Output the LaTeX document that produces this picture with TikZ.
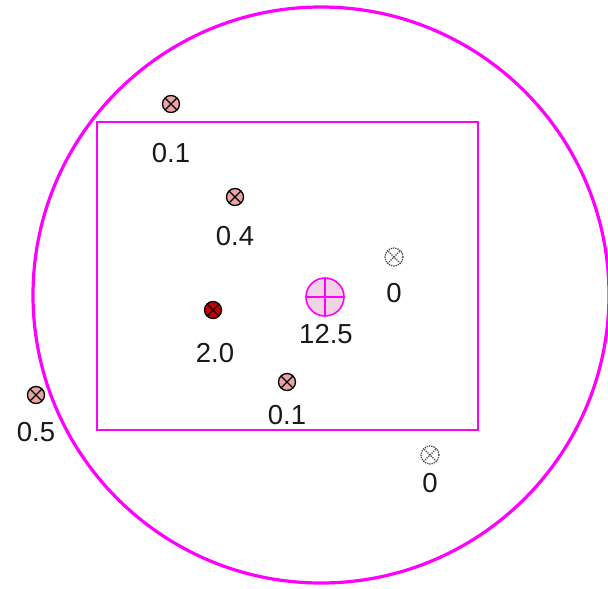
\documentclass[tikz,border=0pt]{standalone}
\usepackage{fontspec}
\setmainfont{Liberation Sans}
\definecolor{mag}{HTML}{FF00FF}
\definecolor{pinkfill}{HTML}{E8A4A4}
\definecolor{redfill}{HTML}{CC0000}
\definecolor{bigfill}{HTML}{F0D4E4}
\tikzset{
  mk/.style={circle, draw=black, line width=1.3pt, minimum size=17pt, inner sep=0pt, fill=pinkfill,
    path picture={\draw[line width=1.3pt] (path picture bounding box.north west) -- (path picture bounding box.south east)
      (path picture bounding box.north east) -- (path picture bounding box.south west);}},
  mkred/.style={mk, fill=redfill},
  mkzero/.style={circle, draw=black!70, densely dotted, line width=1.3pt, minimum size=18pt, inner sep=0pt,
    path picture={\draw[black!70, densely dotted, line width=1.3pt] (path picture bounding box.north west) -- (path picture bounding box.south east)
      (path picture bounding box.north east) -- (path picture bounding box.south west);}},
  mkbig/.style={circle, draw=mag, line width=1.6pt, minimum size=38pt, inner sep=0pt, fill=bigfill,
    path picture={\draw[mag, line width=1.6pt] (path picture bounding box.north) -- (path picture bounding box.south)
      (path picture bounding box.east) -- (path picture bounding box.west);}},
  lab/.style={font=\fontsize{27.5}{32}\selectfont, text=black!90, inner sep=0pt}
}
\begin{document}
\begin{tikzpicture}[x=1pt,y=-1pt]
\useasboundingbox (0,0) rectangle (608,589);
\begin{scope}
\clip (0,0) rectangle (608,589);
\node[circle, draw=mag, line width=3.2pt, minimum size=576pt, inner sep=0pt] (ring) at (321,295) {};
\end{scope}
\node[draw=mag, line width=2.2pt, minimum width=381pt, minimum height=308pt, inner sep=0pt] (box) at (287.5,276) {};
\node[mk] (m1) at (171,104) {};
\node[lab] (l1) at (171,153) {0.1};
\node[mk] (m2) at (235,197) {};
\node[lab] (l2) at (235,236) {0.4};
\node[mkzero] (m3) at (394,257) {};
\node[lab] (l3) at (394,293) {0};
\node[mkbig] (m4) at (325,297) {};
\node[lab] (l4) at (326,334) {12.5};
\node[mkred] (m5) at (213,310) {};
\node[lab] (l5) at (215,353) {2.0};
\node[mk] (m6) at (287,382) {};
\node[lab] (l6) at (287,415) {0.1};
\node[mk] (m7) at (36,395) {};
\node[lab] (l7) at (36,432) {0.5};
\node[mkzero] (m8) at (430,455) {};
\node[lab] (l8) at (430,483) {0};
\end{tikzpicture}
\end{document}
